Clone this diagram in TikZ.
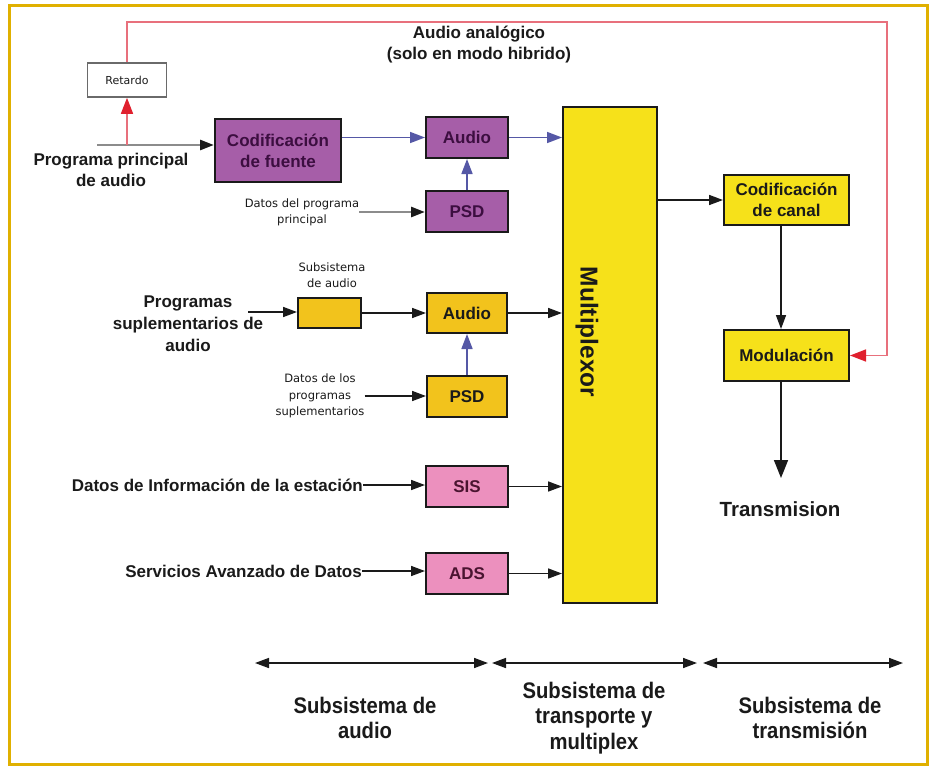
\documentclass[tikz,border=0pt]{standalone}
\usepackage{fontspec}
\setmainfont{Liberation Sans}
\newfontfamily\smallfont{DejaVu Sans}
\newfontfamily\narrowfont[FakeStretch=0.9]{Liberation Sans}
\usetikzlibrary{arrows.meta}

\definecolor{framegold}{HTML}{E0B000}
\definecolor{purplefill}{HTML}{A65EA8}
\definecolor{purpletext}{HTML}{3C0E40}
\definecolor{muxyellow}{HTML}{F6E11A}
\definecolor{goldfill}{HTML}{F2C31C}
\definecolor{pinkfill}{HTML}{EC90BE}
\definecolor{pinktext}{HTML}{4A1430}
\definecolor{redline}{HTML}{E8707C}
\definecolor{redtip}{HTML}{E0202E}
\definecolor{blueline}{HTML}{5558A6}
\definecolor{feedgray}{HTML}{8C8C8C}
\definecolor{boxgray}{HTML}{6A6A6A}
\definecolor{ink}{HTML}{1A1A1A}

\tikzset{
  boldtxt/.style={font=\fontsize{17}{21}\selectfont\bfseries, text=ink, align=center, inner sep=0pt},
  smalltxt/.style={font=\smallfont\fontsize{11.5}{16}\selectfont, text=ink, align=center, inner sep=0pt},
  bandtxt/.style={font=\narrowfont\fontsize{22.5}{25.5}\selectfont\bfseries, text=ink, align=center, inner sep=0pt},
  blk/.style={draw=ink, line width=2pt, inner sep=0pt, align=center,
              font=\fontsize{17}{21}\selectfont\bfseries},
  purplebox/.style={blk, fill=purplefill, text=purpletext},
  yellowbox/.style={blk, fill=muxyellow, text=ink},
  goldbox/.style={blk, fill=goldfill, text=ink},
  pinkbox/.style={blk, fill=pinkfill, text=pinktext},
  tip/.style={-{Triangle[length=14pt,width=10pt]}},
  blackarrow/.style={tip, draw=ink, line width=1.6pt},
  grayarrow/.style={-{Triangle[length=14pt,width=10pt,color=ink]}, draw=feedgray, line width=2.8pt},
  bluearrow/.style={-{Triangle[length=15pt,width=11pt]}, draw=blueline, line width=1.6pt},
  redpath/.style={draw=redline, line width=1.5pt},
  redarrow/.style={-{Triangle[length=16pt,width=12pt,color=redtip]}, draw=redline, line width=1.5pt},
  bandarrow/.style={{Triangle[length=14pt,width=10pt]}-{Triangle[length=14pt,width=10pt]}, draw=ink, line width=1.6pt},
}

\begin{document}
\begin{tikzpicture}[x=1pt, y=-1pt]
  % page and frame
  \useasboundingbox (0,0) rectangle (936,768);
  \fill[white] (0,0) rectangle (936,768);
  \draw[framegold, line width=3pt] (9,6) rectangle (927,764);

  % ---------- blocks ----------
  \node[draw=boxgray, line width=1.6pt, fill=white, minimum width=79pt, minimum height=34pt,
        font=\smallfont\fontsize{11}{13}\selectfont, text=ink] (retardo) at (127,80) {Retardo};

  \node[purplebox, minimum width=126pt, minimum height=63pt] (codf) at (278,150.5) {Codificación\\de fuente};
  \node[purplebox, minimum width=82pt, minimum height=41pt] (audio1) at (467,137.5) {Audio};
  \node[purplebox, minimum width=82pt, minimum height=41pt] (psd1) at (467,211.5) {PSD};

  \node[goldbox, minimum width=63pt, minimum height=30pt] (subbox) at (329.5,313) {};
  \node[goldbox, minimum width=80pt, minimum height=40pt] (audio2) at (467,313) {Audio};
  \node[goldbox, minimum width=80pt, minimum height=41pt] (psd2) at (467,396.5) {PSD};

  \node[pinkbox, minimum width=82pt, minimum height=41pt] (sis) at (467,486.5) {SIS};
  \node[pinkbox, minimum width=82pt, minimum height=41pt] (ads) at (467,573.5) {ADS};

  \node[yellowbox, minimum width=94pt, minimum height=496pt] (mux) at (610,355) {};
  \node[font=\fontsize{24.5}{28}\selectfont\bfseries, text=ink, rotate=-90, inner sep=0pt] (muxlabel) at (587,332) {Multiplexor};

  \node[yellowbox, minimum width=125pt, minimum height=50pt] (codc) at (786.5,200) {Codificación\\de canal};
  \node[yellowbox, minimum width=125pt, minimum height=51pt] (mod) at (786.5,355.5) {Modulación};

  % ---------- texts ----------
  \node[boldtxt] (audana) at (479,45) {Audio analógico\\(solo en modo hibrido)};
  \node[boldtxt] (progppal) at (111,170) {Programa principal\\de audio};
  \node[smalltxt] (datos1) at (302,212) {Datos del programa\\principal};
  \node[smalltxt] (subtxt) at (332,275) {Subsistema\\de audio};
  \node[boldtxt, font=\fontsize{17}{22}\selectfont\bfseries] (progsup) at (188,324) {Programas\\suplementarios de\\audio};
  \node[smalltxt, font=\smallfont\fontsize{11.5}{16.5}\selectfont] (datos2) at (320,396) {Datos de los\\programas\\suplementarios};
  \node[boldtxt, anchor=east] (sistxt) at (363,485) {Datos de Información de la estación};
  \node[boldtxt, anchor=east] (adstxt) at (362,571) {Servicios Avanzado de Datos};
  \node[boldtxt, font=\fontsize{20.5}{24}\selectfont\bfseries] (tx) at (780,509) {Transmision};

  \node[bandtxt] (band1) at (365,718) {Subsistema de\\audio};
  \node[bandtxt] (band2) at (594,718) {Subsistema de\\transporte y\\multiplex};
  \node[bandtxt] (band3) at (810,718) {Subsistema de\\transmisión};

  % ---------- helper points ----------
  \coordinate (in1) at (97,145);
  \coordinate (tap) at (127,145);
  \coordinate (rc1) at (127,22);
  \coordinate (rc2) at (887,22);
  \coordinate (rc3) at (887,355.5);
  \coordinate (sp) at (248,312);
  \coordinate (txin) at (781,478);
  \coordinate (b1l) at (255,663);
  \coordinate (b1r) at (488,663);
  \coordinate (b2l) at (492,663);
  \coordinate (b2r) at (697,663);
  \coordinate (b3l) at (703,663);
  \coordinate (b3r) at (903,663);

  % ---------- connectors ----------
  % main programme path
  \draw[grayarrow] (in1) -- (in1 -| codf.west);
  \draw[redarrow] (tap) -- (retardo.south);
  \draw[redpath] (retardo.north) -- (rc1) -- (rc2) -- (rc3);
  \draw[redarrow] (rc3) -- (mod.east);
  \draw[bluearrow] (codf.east |- audio1.west) -- (audio1.west);
  \draw[grayarrow] (datos1.east) -- (datos1.east -| psd1.west);
  \draw[bluearrow] (psd1.north) -- (audio1.south);
  \draw[bluearrow] (audio1.east) -- (audio1.east -| mux.west);

  % supplementary programmes
  \draw[blackarrow] (sp) -- (sp -| subbox.west);
  \draw[blackarrow] (subbox.east) -- (subbox.east -| audio2.west);
  \draw[blackarrow] (datos2.east) -- (datos2.east -| psd2.west);
  \draw[bluearrow] (psd2.north) -- (audio2.south);
  \draw[blackarrow] (audio2.east) -- (audio2.east -| mux.west);

  % data services
  \draw[blackarrow] (sistxt.east) -- (sistxt.east -| sis.west);
  \draw[blackarrow] (sis.east) -- (sis.east -| mux.west);
  \draw[blackarrow] (adstxt.east) -- (adstxt.east -| ads.west);
  \draw[blackarrow] (ads.east) -- (ads.east -| mux.west);

  % transmission chain
  \draw[blackarrow] (mux.east |- codc.west) -- (codc.west);
  \draw[blackarrow] ([xshift=-5.5pt]codc.south) -- ([xshift=-5.5pt]mod.north);
  \draw[-{Triangle[length=18pt,width=14pt]}, draw=ink, line width=1.6pt] ([xshift=-5.5pt]mod.south) -- (txin);

  % subsystem spans
  \draw[bandarrow] (b1l) -- (b1r);
  \draw[bandarrow] (b2l) -- (b2r);
  \draw[bandarrow] (b3l) -- (b3r);
\end{tikzpicture}
\end{document}
